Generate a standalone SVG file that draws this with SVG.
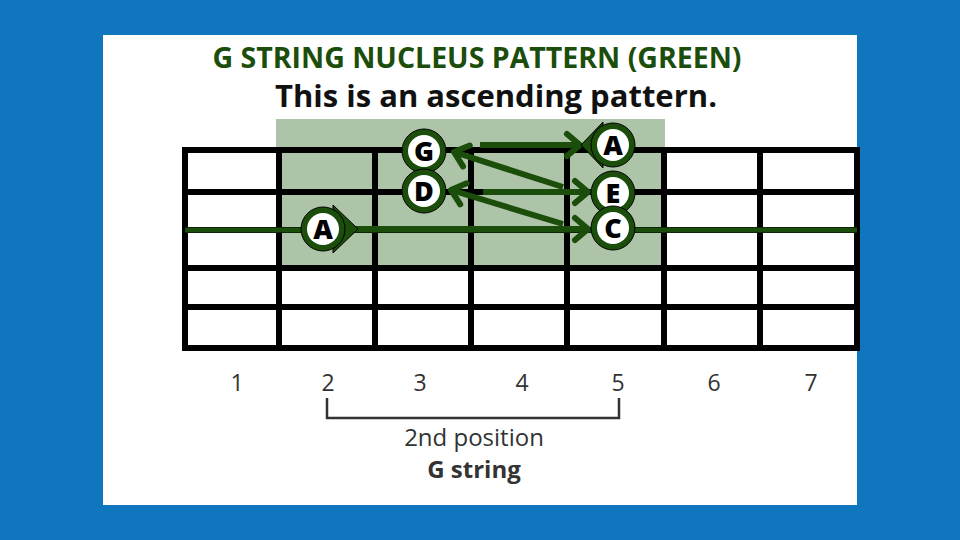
<svg xmlns="http://www.w3.org/2000/svg" width="960" height="540" viewBox="0 0 960 540">
<defs>
<style>
.grid{stroke:#000;stroke-width:6;fill:none}
.arr{stroke:#1b4d0b;stroke-width:6;fill:none}
.ring{fill:#1b4d0b;stroke:#000;stroke-width:1}
.hole{fill:#fff}
.nl{font-family:"Open Sans","DejaVu Sans",sans-serif;font-weight:800;font-size:27px;fill:#000;text-anchor:middle}
.num{font-family:"Open Sans","DejaVu Sans",sans-serif;font-size:23px;fill:#333;text-anchor:middle}
.cap{font-family:"Open Sans","DejaVu Sans",sans-serif;font-size:24px;fill:#333;text-anchor:middle}
</style>
<marker id="ah" markerUnits="userSpaceOnUse" markerWidth="40" markerHeight="40" viewBox="-20 -20 40 40" refX="0" refY="0" orient="auto" overflow="visible">
<path d="M-13,-11 L0,0 L-13,11" stroke="#1b4d0b" stroke-width="6" fill="none" stroke-linejoin="round" stroke-linecap="round"/>
</marker>
</defs>
<rect width="960" height="540" fill="#0f75bc"/>
<rect x="103" y="35" width="754" height="470" fill="#fff"/>
<g id="title">
<text x="477" y="68" text-anchor="middle" font-family="Open Sans, DejaVu Sans, sans-serif" font-weight="bold" font-size="28.5" fill="#1b4d0b">G STRING NUCLEUS PATTERN (GREEN)</text>
<text x="496" y="107" text-anchor="middle" font-family="Open Sans, DejaVu Sans, sans-serif" font-weight="bold" font-size="31" fill="#111">This is an ascending pattern.</text>
</g>
<g id="fretboard">
<rect x="276" y="119" width="389" height="147" fill="#aec4a8"/>
<rect class="grid" x="185" y="150" width="672" height="198"/>
<g class="grid">
<line x1="182" y1="192" x2="857" y2="192"/>
<line x1="182" y1="230" x2="857" y2="230"/>
<line x1="182" y1="268" x2="857" y2="268"/>
<line x1="182" y1="307" x2="857" y2="307"/>
<line x1="279" y1="147" x2="279" y2="351"/>
<line x1="375" y1="147" x2="375" y2="351"/>
<line x1="471" y1="147" x2="471" y2="351"/>
<line x1="567" y1="147" x2="567" y2="351"/>
<line x1="664" y1="147" x2="664" y2="351"/>
<line x1="760" y1="147" x2="760" y2="351"/>
</g>
<line x1="185" y1="230" x2="857" y2="230" stroke="#1b4d0b" stroke-width="5"/>
</g>
<g id="connectors">
<line class="arr" x1="480" y1="145" x2="580" y2="145" marker-end="url(#ah)"/>
<line class="arr" x1="563" y1="187" x2="454" y2="152" marker-end="url(#ah)"/>
<line class="arr" x1="483" y1="192" x2="588" y2="192" marker-end="url(#ah)"/>
<line class="arr" x1="563" y1="224" x2="451" y2="190" marker-end="url(#ah)"/>
<line class="arr" x1="352" y1="229" x2="588" y2="229" marker-end="url(#ah)"/>
</g>
<g id="note-A-low">
<polygon points="333,205 358,229 333,253" fill="#1b4d0b" stroke="#000" stroke-width="1"/>
<circle class="ring" cx="323" cy="229" r="22"/>
<circle class="hole" cx="323" cy="229" r="16"/>
<text class="nl" x="323" y="239">A</text>
</g>
<g id="note-G">
<circle class="ring" cx="424" cy="151" r="22"/>
<circle class="hole" cx="424" cy="151" r="16"/>
<text class="nl" x="424" y="161">G</text>
</g>
<g id="note-D">
<circle class="ring" cx="424" cy="191" r="22"/>
<circle class="hole" cx="424" cy="191" r="16"/>
<text class="nl" x="424" y="201">D</text>
</g>
<g id="note-A-high">
<polygon points="603,122 581,145 603,168" fill="#1b4d0b" stroke="#000" stroke-width="1"/>
<circle class="ring" cx="613" cy="145" r="22"/>
<circle class="hole" cx="613" cy="145" r="16"/>
<text class="nl" x="613" y="155">A</text>
</g>
<g id="note-E">
<circle class="ring" cx="613" cy="193" r="22"/>
<circle class="hole" cx="613" cy="193" r="16"/>
<text class="nl" x="613" y="203">E</text>
</g>
<g id="note-C">
<circle class="ring" cx="613" cy="228" r="22"/>
<circle class="hole" cx="613" cy="228" r="16"/>
<text class="nl" x="613" y="238">C</text>
</g>
<g id="fret-numbers">
<text class="num" x="237" y="391">1</text>
<text class="num" x="328" y="391">2</text>
<text class="num" x="420" y="391">3</text>
<text class="num" x="522" y="391">4</text>
<text class="num" x="618" y="391">5</text>
<text class="num" x="714" y="391">6</text>
<text class="num" x="811" y="391">7</text>
</g>
<g id="position-bracket">
<path d="M327,398 V418 H619 V398" fill="none" stroke="#333" stroke-width="2.5"/>
<text class="cap" x="474" y="446">2nd position</text>
<text class="cap" x="474" y="478" font-weight="bold" fill="#222">G string</text>
</g>
</svg>
